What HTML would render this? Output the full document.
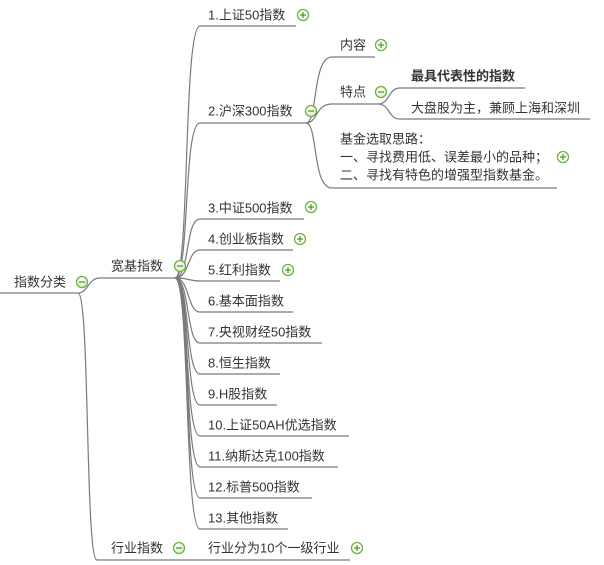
<!DOCTYPE html>
<html><head><meta charset="utf-8"><style>
html,body{margin:0;padding:0;background:#fff;}
svg{display:block;}
text{font-family:"Liberation Sans","Noto Sans CJK SC",sans-serif;font-size:13px;fill:#333;dominant-baseline:central;}
</style></head><body>
<svg width="604" height="565" viewBox="0 0 604 565" xmlns="http://www.w3.org/2000/svg">
<defs>
<radialGradient id="g" cx="0.4" cy="0.35" r="0.7"><stop offset="0" stop-color="#fff"/><stop offset="1" stop-color="#dde8cc"/></radialGradient>
<g id="minus"><circle r="5.5" fill="url(#g)" stroke="#6db33f" stroke-width="1.3"/><line x1="-3" y1="0" x2="3" y2="0" stroke="#4f9a2a" stroke-width="1.3"/></g>
<g id="plus"><circle r="5.5" fill="#fff" stroke="#6db33f" stroke-width="1.3"/><line x1="-3" y1="0" x2="3" y2="0" stroke="#4f9a2a" stroke-width="1.3"/><line x1="0" y1="-3" x2="0" y2="3" stroke="#4f9a2a" stroke-width="1.3"/></g>
</defs>
<g fill="none" stroke="#7a7a7a" stroke-width="1.2">
<!-- root -->
<path d="M0,293 H78"/>
<path d="M78,293 C88,293 88,278 100,278 H175"/>
<path d="M78,293 C90,293 85,560 97,560 H350"/>
<!-- 宽基 children -->
<path d="M175,278 C190,278 183,26 200,26 H296"/>
<path d="M175,278 C190,278 183,123 200,123 H306"/>
<path d="M175,278 C190,278 185,219 200,219 H304"/>
<path d="M175,278 C190,278 187,250 200,250 H293"/>
<path d="M175,278 C190,278 188,281 200,281 H280"/>
<path d="M175,278 C190,278 187,312 200,312 H293"/>
<path d="M175,278 C190,278 186,343 200,343 H322"/>
<path d="M175,278 C190,278 185,374 200,374 H280"/>
<path d="M175,278 C190,278 185,405 200,405 H277"/>
<path d="M175,278 C190,278 184,436 200,436 H349"/>
<path d="M175,278 C190,278 184,467 200,467 H338"/>
<path d="M175,278 C190,278 184,498 200,498 H312"/>
<path d="M175,278 C190,278 184,529 200,529 H288"/>
<!-- 沪深300 children -->
<path d="M306,123 C318,123 312,57 332,57 H375"/>
<path d="M306,123 C318,123 315,104 332,104 H378"/>
<path d="M306,123 C318,123 312,188 332,188 H557"/>
<!-- 特点 children -->
<path d="M378,104 C390,104 388,88 400,88 H525"/>
<path d="M378,104 C390,104 388,119 400,119 H590"/>
</g>
<text x="14" y="282">指数分类</text>
<text x="111" y="266">宽基指数</text>
<text x="111" y="548">行业指数</text>
<text x="208" y="548">行业分为10个一级行业</text>
<text x="208" y="15">1.上证50指数</text>
<text x="208" y="111">2.沪深300指数</text>
<text x="208" y="208">3.中证500指数</text>
<text x="208" y="239">4.创业板指数</text>
<text x="208" y="270">5.红利指数</text>
<text x="208" y="301">6.基本面指数</text>
<text x="208" y="332">7.央视财经50指数</text>
<text x="208" y="363">8.恒生指数</text>
<text x="208" y="394">9.H股指数</text>
<text x="208" y="425">10.上证50AH优选指数</text>
<text x="208" y="456">11.纳斯达克100指数</text>
<text x="208" y="487">12.标普500指数</text>
<text x="208" y="518">13.其他指数</text>
<text x="340" y="45">内容</text>
<text x="340" y="92">特点</text>
<text x="411" y="76" style="font-weight:bold">最具代表性的指数</text>
<text x="411" y="108">大盘股为主，兼顾上海和深圳</text>
<text x="340" y="139">基金选取思路：</text>
<text x="340" y="157">一、寻找费用低、误差最小的品种；</text>
<text x="340" y="175">二、寻找有特色的增强型指数基金。</text>
<use href="#minus" x="82" y="282"/>
<use href="#minus" x="180" y="266"/>
<use href="#minus" x="179" y="548"/>
<use href="#minus" x="311" y="111"/>
<use href="#minus" x="381" y="92"/>
<use href="#plus" x="303" y="15"/>
<use href="#plus" x="311" y="207"/>
<use href="#plus" x="300" y="239"/>
<use href="#plus" x="288" y="270"/>
<use href="#plus" x="381" y="45"/>
<use href="#plus" x="563" y="157"/>
<use href="#plus" x="357" y="548"/>
</svg>
</body></html>
